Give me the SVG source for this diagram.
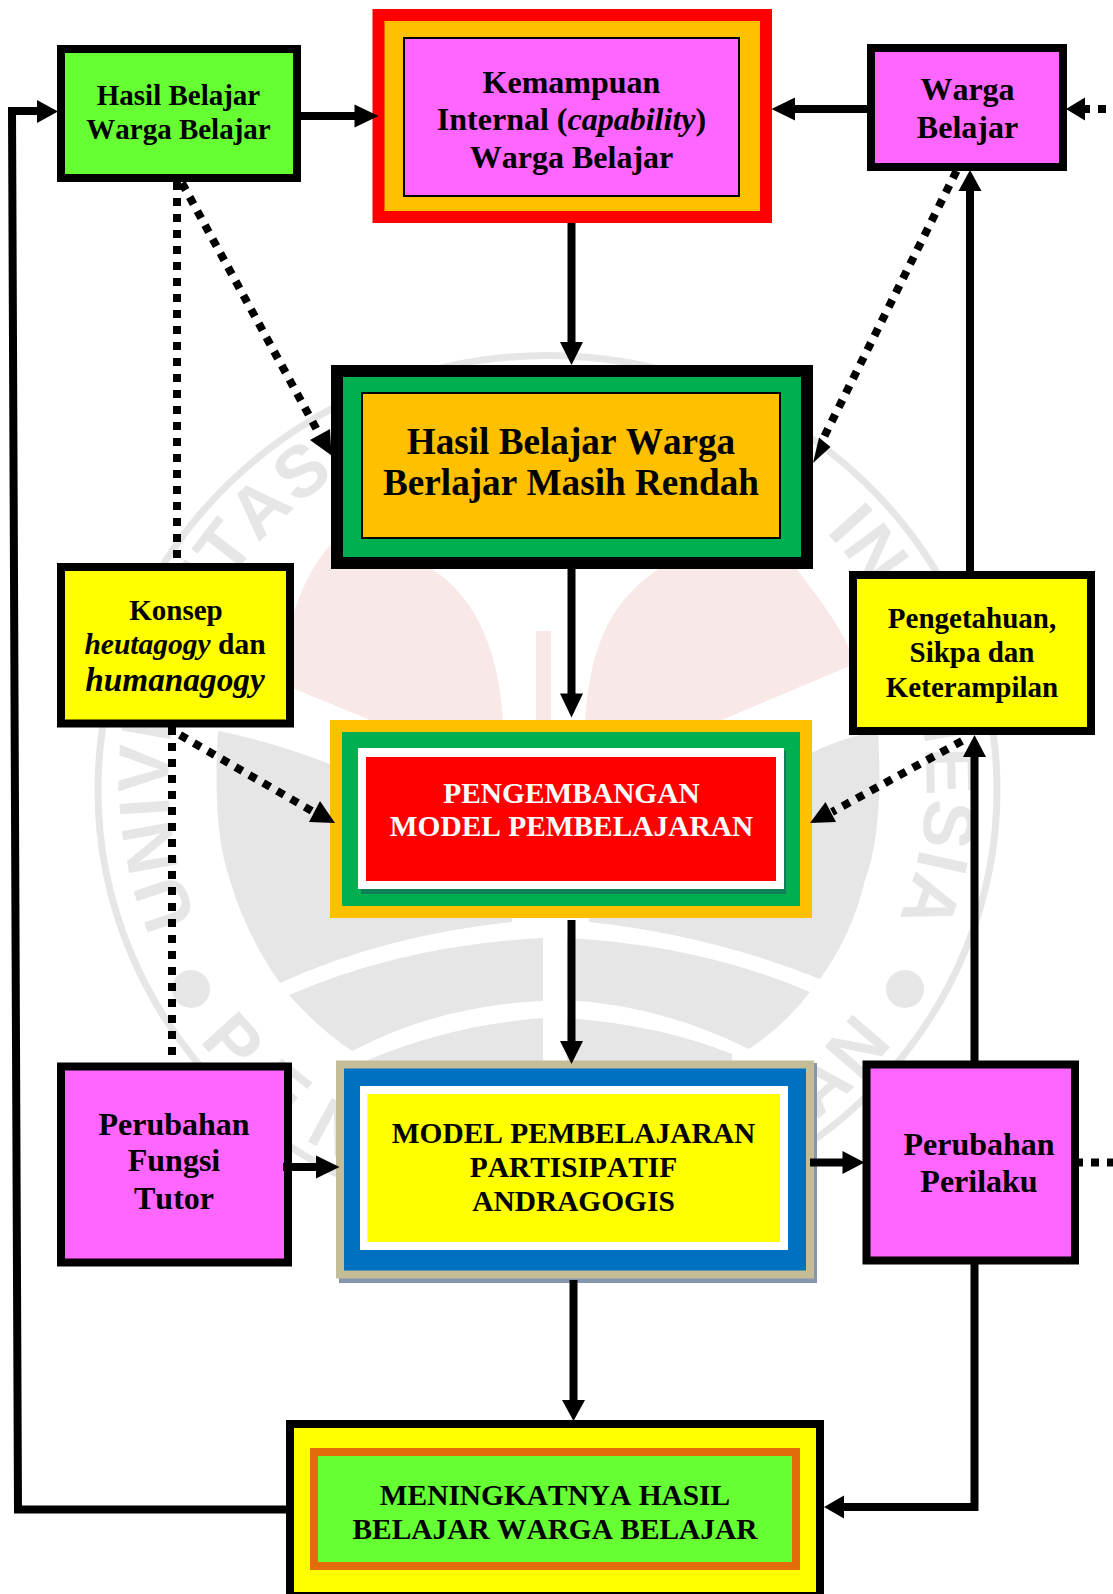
<svg xmlns="http://www.w3.org/2000/svg" width="1113" height="1594" viewBox="0 0 1113 1594">
<style>
text{font-family:"Liberation Serif","Times New Roman",serif;font-weight:bold;fill:#000;text-anchor:middle;font-kerning:none}
.w{font-family:"Liberation Sans",Arial,sans-serif;font-size:72px;fill:#e6e6e6}
.b8{stroke:#000;stroke-width:8}
.line{stroke:#000;stroke-width:8;fill:none}
.dot{stroke:#000;stroke-width:8;fill:none;stroke-dasharray:8 8}
.head{fill:#000}
.pink{fill:#FF66FF}.yellow{fill:#FFFF00}.lime{fill:#66FF33}
.s29{font-size:29px}.s32{font-size:32px}.s37{font-size:37.2px}.u{font-size:29.4px}
</style>
<defs>
<path id="arcTop" d="M197,920 A379 366 0 1 1 898,920"/>
<path id="arcBot" d="M200,1040 A432 420 0 0 0 895,1040"/>
</defs>
<rect width="1113" height="1594" fill="#fff"/>
<g id="watermark">
<g fill="#f9e8e8">
<path d="M503,722 C498,640 470,590 425,565 L335,540 C300,575 280,640 285,685 L370,720 Z"/>
<path d="M585,722 C590,640 615,595 665,565 L790,560 C820,600 840,625 852,655 L852,665 L717,722 Z"/>
<rect x="536" y="631" width="15" height="92"/>
</g>
<g fill="#e6e6e6">
<path d="M218,731 Q275,742 340,768 L512,768 L512,922 Q385,935 280,983 Q246,935 230,880 Q212,830 218,731 Z"/>
<path d="M878,731 Q820,742 790,768 L589,768 L589,922 Q710,935 820,979 Q852,935 865,880 Q884,830 878,731 Z"/>
<path d="M543,938 Q405,945 289,995 Q320,1030 352,1051 Q440,1005 543,1001 Z"/>
<path d="M567,938 Q700,945 810,992 Q785,1025 749,1049 Q660,1005 567,1000 Z"/>
<path d="M543,1018 Q450,1025 368,1060 L368,1080 L543,1080 Z"/>
<path d="M567,1018 Q660,1025 732,1054 L732,1080 L567,1080 Z"/>
<circle cx="191" cy="989" r="19"/>
<circle cx="905" cy="989" r="19"/>
</g>
<ellipse cx="547.5" cy="790" rx="449.5" ry="434.5" fill="none" stroke="#e6e6e6" stroke-width="7"/>
<text class="w" style="text-anchor:start;letter-spacing:2px"><textPath href="#arcTop" startOffset="0">UNIVERSITAS</textPath></text>
<text class="w" style="text-anchor:end;letter-spacing:2px"><textPath href="#arcTop" startOffset="100%">INDONESIA</textPath></text>
<text class="w" style="text-anchor:start;letter-spacing:24px"><textPath href="#arcBot" startOffset="0">PEN</textPath></text>
<text class="w" style="text-anchor:end;letter-spacing:4px"><textPath href="#arcBot" startOffset="100%">DIDIKAN</textPath></text>
</g>

<g id="node-hasil-warga">
<rect class="b8 lime" x="61" y="49" width="236" height="129"/>
<text class="s29" x="178.5" y="105">Hasil Belajar</text>
<text class="s29" x="178.5" y="138.5">Warga Belajar</text>
</g>
<g id="node-kemampuan">
<rect x="378.5" y="15" width="387.5" height="202" fill="#FFC000" stroke="#f00" stroke-width="12"/>
<rect x="404" y="38" width="335" height="158" class="pink" stroke="#000" stroke-width="2"/>
<text class="s32" x="571.5" y="93">Kemampuan</text>
<text class="s32" x="571.5" y="130">Internal (<tspan font-style="italic">capability</tspan>)</text>
<text class="s32" x="571.5" y="168">Warga Belajar</text>
</g>
<g id="node-warga">
<rect class="b8 pink" x="871" y="48" width="192" height="119"/>
<text class="s32" x="967.5" y="100">Warga</text>
<text class="s32" x="967.5" y="137.5">Belajar</text>
</g>
<g id="node-rendah">
<rect x="337" y="371" width="470" height="192" fill="#00B050" stroke="#000" stroke-width="12"/>
<rect x="362" y="393" width="418" height="145" fill="#FFC000" stroke="#000" stroke-width="2"/>
<text class="s37" x="571" y="453.5">Hasil Belajar Warga</text>
<text class="s37" x="571" y="495">Berlajar Masih Rendah</text>
</g>
<g id="node-konsep">
<rect class="b8 yellow" x="61" y="567" width="229" height="156.5"/>
<text class="s29" x="176" y="619.5">Konsep</text>
<text style="font-size:29.5px" x="175" y="653.5"><tspan font-style="italic">heutagogy</tspan> dan</text>
<text style="font-size:33.3px" x="175" y="690.5" font-style="italic">humanagogy</text>
</g>
<g id="node-pengetahuan">
<rect class="b8 yellow" x="853" y="575" width="238" height="156"/>
<text class="s29" x="972" y="627.5">Pengetahuan,</text>
<text class="s29" x="972" y="662">Sikpa dan</text>
<text class="s29" x="972" y="696.5">Keterampilan</text>
</g>
<g id="node-pengembangan">
<rect x="336" y="726" width="470" height="186" fill="#00B050" stroke="#FFC000" stroke-width="12"/>
<rect x="361" y="751" width="425" height="143" fill="#0F8058"/>
<rect x="358" y="748" width="426" height="141" fill="#fff"/>
<rect x="366" y="757" width="410" height="124" fill="#f00"/>
<text class="u" x="571.5" y="802.5" style="fill:#fff">PENGEMBANGAN</text>
<text class="u" x="571.5" y="835.5" style="fill:#fff">MODEL PEMBELAJARAN</text>
</g>
<g id="node-fungsi">
<rect class="b8 pink" x="61" y="1066.5" width="227" height="196"/>
<text class="s32" x="174" y="1134.5">Perubahan</text>
<text class="s32" x="174" y="1171">Fungsi</text>
<text class="s32" x="174" y="1209">Tutor</text>
</g>
<g id="node-model">
<rect x="339" y="1063" width="478" height="220" fill="#8496B0"/>
<rect x="340" y="1064.5" width="470" height="210" fill="#0070C0" stroke="#C4BD97" stroke-width="8"/>
<rect x="360" y="1086" width="428" height="164" fill="#fff"/>
<rect x="367.5" y="1094" width="412.5" height="148" fill="#FFFF00"/>
<text class="u" x="573.5" y="1143">MODEL PEMBELAJARAN</text>
<text class="u" x="573.5" y="1177">PARTISIPATIF</text>
<text class="u" x="573.5" y="1211">ANDRAGOGIS</text>
</g>
<g id="node-perilaku">
<rect class="b8 pink" x="866.5" y="1064.5" width="208.5" height="196"/>
<text class="s32" x="979" y="1154.5">Perubahan</text>
<text class="s32" x="979" y="1192">Perilaku</text>
</g>
<g id="node-meningkat">
<rect class="b8 yellow" x="290" y="1424" width="530" height="172"/>
<rect x="314" y="1452" width="482" height="114" fill="#66FF33" stroke="#E36C0A" stroke-width="8"/>
<text class="u" x="555" y="1505">MENINGKATNYA HASIL</text>
<text class="u" x="555" y="1538.5">BELAJAR WARGA BELAJAR</text>
</g>

<g id="connectors">
<path class="line" d="M286,1509.5 L18,1509.5 L12,111 L40,111"/>
<polygon class="head" points="58,111.5 37,100 37,123"/>
<path class="line" d="M301,116 H356"/>
<polygon class="head" points="378.5,116 354.5,104.5 354.5,127.5"/>
<path class="line" d="M867,109 H793"/>
<polygon class="head" points="771.5,109 795,97.5 795,120.5"/>
<path class="dot" d="M1113,109 H1081" stroke-dashoffset="9"/>
<polygon class="head" points="1066,109 1085,97.5 1085,120.5"/>
<path class="line" d="M571.5,223 V344"/>
<polygon class="head" points="571.5,365 560,342 583,342"/>
<path class="line" d="M571.5,569 V695"/>
<polygon class="head" points="571.5,717.5 560,693.5 583,693.5"/>
<path class="line" d="M571.5,920 V1043"/>
<polygon class="head" points="571.5,1064 560,1041 583,1041"/>
<path class="line" d="M573.5,1280 V1402"/>
<polygon class="head" points="573.5,1421 562,1400 585,1400"/>
<path class="line" d="M283,1167 H318"/>
<polygon class="head" points="339.5,1167 316,1155.5 316,1178.5"/>
<path class="line" d="M810,1162.5 H845"/>
<polygon class="head" points="864.5,1162.5 842.5,1151 842.5,1174"/>
<path class="line" d="M974.5,1061 V755"/>
<polygon class="head" points="974.5,735 963,757 986,757"/>
<path class="line" d="M970,571 V189"/>
<polygon class="head" points="970,170 958.5,191 981.5,191"/>
<path class="line" d="M974.5,1264 V1507 H842"/>
<polygon class="head" points="824,1507 844,1495.5 844,1518.5"/>
<path class="dot" d="M1079,1162.5 H1113" stroke-dashoffset="4"/>
<path class="dot" d="M177,182 V563"/>
<path class="dot" d="M172,727 V1062"/>
<path class="dot" d="M182,183 L323,441"/>
<polygon class="head" points="331.5,455.5 310,440 330,429"/>
<path class="dot" d="M956.5,171 L821,443"/>
<polygon class="head" points="813,463 830.5,447 819,437.5"/>
<path class="dot" d="M180,735 L312,811"/>
<polygon class="head" points="335,823 309,822 320,801"/>
<path class="dot" d="M962,741 L832,812"/>
<polygon class="head" points="810,823 825.5,802 836,822"/>
</g>
</svg>
